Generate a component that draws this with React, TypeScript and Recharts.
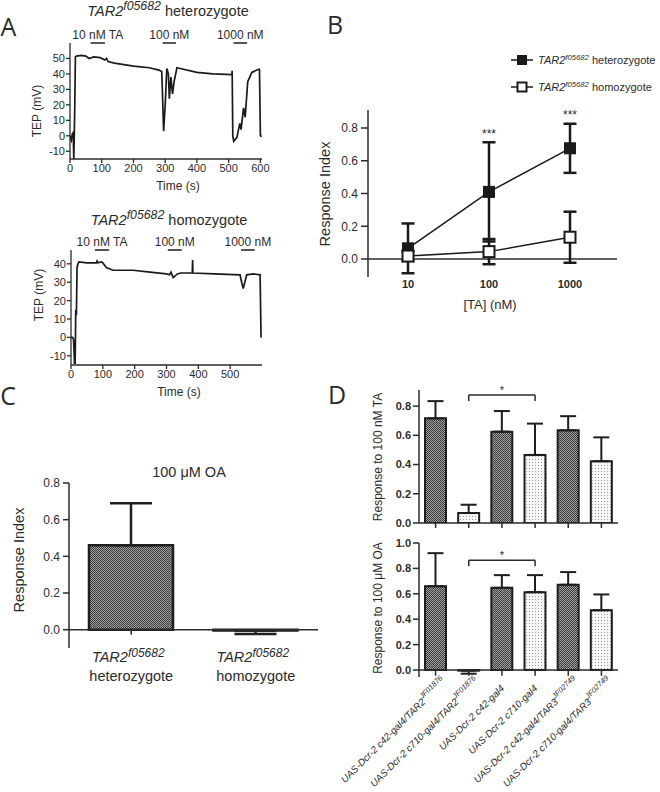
import React from 'react';
import {
  LineChart,
  Line,
  BarChart,
  Bar,
  Cell,
  XAxis,
  YAxis,
  ErrorBar,
  ReferenceLine,
  ReferenceDot,
} from 'recharts';

const FONT = "'Liberation Sans', Arial, Helvetica, sans-serif";
const LETTER_FONT = "'Open Sans', 'Liberation Sans', sans-serif";
const INK = '#2b2b2b';

const GENE = 'TAR2';
const ALLELE = 'f05682';

// A: TEP recordings (time in s, TEP in mV)
const HET_TIME = [0, 2, 4, 7, 10, 12, 15, 17, 20, 35, 50, 60, 75, 95, 110, 115, 120, 140, 170, 200, 250, 280, 289, 291, 295, 300, 305, 310, 313, 318, 323, 328, 337, 347, 400, 450, 510, 511, 513, 516, 526, 535, 539, 547, 552, 560, 573, 594, 597, 600, 605];
const HET_TEP = [0, -2, -3, 1, 2, -15, 18, 51, 51.5, 52, 51.5, 50, 51, 50.5, 49, 50, 48, 47, 46, 45, 44, 42.5, 41.5, 30, 3, 20, 43.5, 40, 24, 38, 27, 35, 44, 43.5, 41, 40, 39.5, 42, 0, -3.5, -1, 8, 4, 18, 12, 35, 41, 43, 43, 0, -0.5];
const HOMO_TIME = [0, 5, 8, 11, 13, 15, 17, 19, 22, 25, 50, 80, 82, 85, 96, 100, 111, 132, 195, 248, 300, 309, 314, 321, 334, 345, 381, 382, 383, 450, 531, 536, 541, 552, 573, 594, 597];
const HOMO_TEP = [0, 0, -1, -14, -14, 15, 12, 38, 40, 41, 40.5, 40.5, 41.5, 40.5, 41, 40.5, 38, 36.5, 36.5, 35.5, 34.5, 34, 35.5, 32.5, 34.5, 35, 35, 42, 35, 34.5, 34, 30, 26.5, 34, 34.5, 34, 0];

const PULSE_LABELS = ['10 nM TA', '100 nM', '1000 nM'];
const HET_PULSE_ON = [65, 292, 515];
const HET_PULSE_OFF = [110, 334, 558];
const HOMO_PULSE_ON = [75, 304, 534];
const HOMO_PULSE_OFF = [120, 348, 577];

const HET_TIME_TICKS = [0, 100, 200, 300, 400, 500, 600];
const HOMO_TIME_TICKS = [0, 100, 200, 300, 400, 500];
const HET_TEP_TICKS = [-10, 0, 10, 20, 30, 40, 50];
const HOMO_TEP_TICKS = [-10, 0, 10, 20, 30, 40];

// B: dose response
const TA_DOSES = ['10', '100', '1000'];
const HET_RI = [0.065, 0.41, 0.676];
const HET_RI_SD = [0.152, 0.303, 0.15];
const HOMO_RI = [0.018, 0.045, 0.133];
const HOMO_RI_SD = [0.03, 0.077, 0.156];
const DOSE_STARS = ['', '***', '***'];

// C: octopamine
const OA_GROUPS = ['heterozygote', 'homozygote'];
const OA_RI = [0.46, -0.005];
const OA_RI_ERR = [0.23, 0.018];

// D: RNAi lines
const RNAI_LINES = [
  'UAS-Dcr-2 c42-gal4/TAR2',
  'UAS-Dcr-2 c710-gal4/TAR2',
  'UAS-Dcr-2 c42-gal4',
  'UAS-Dcr-2 c710-gal4',
  'UAS-Dcr-2 c42-gal4/TAR3',
  'UAS-Dcr-2 c710-gal4/TAR3',
];
const RNAI_ALLELES = ['JF01876', 'JF01876', '', '', 'JF02749', 'JF02749'];
const RNAI_DRIVERS = ['c42', 'c710', 'c42', 'c710', 'c42', 'c710'];
const TA_RESP = [0.716, 0.068, 0.625, 0.466, 0.634, 0.423];
const TA_RESP_ERR = [0.118, 0.057, 0.141, 0.214, 0.097, 0.163];
const OA_RESP = [0.66, -0.005, 0.647, 0.613, 0.671, 0.471];
const OA_RESP_ERR = [0.26, 0.024, 0.1, 0.134, 0.1, 0.124];
const SIG_PAIR = [1, 3];
const TA_BRACKET = [0.835, 0.875];
const OA_BRACKET = [0.817, 0.865];

const RI_TICKS = [0, 0.2, 0.4, 0.6, 0.8];
const RI_TICKS_TO_ONE = [0, 0.2, 0.4, 0.6, 0.8, 1.0];

const RNAI_KEYS = RNAI_LINES.map((l, i) => l + RNAI_ALLELES[i]);

const hetTrace = HET_TIME.map((t, i) => ({ t, tep: HET_TEP[i] }));
const homoTrace = HOMO_TIME.map((t, i) => ({ t, tep: HOMO_TEP[i] }));

const doseData = TA_DOSES.map((dose, i) => ({
  dose,
  het: HET_RI[i],
  hetSd: HET_RI_SD[i],
  homo: HOMO_RI[i],
  homoSd: HOMO_RI_SD[i],
}));

// error bars point away from zero, like the original
const awayFromZero = (v: number, e: number) => (v < 0 ? [e, 0] : [0, e]);

const oaData = OA_GROUPS.map((g, i) => ({
  group: g,
  ri: OA_RI[i],
  err: awayFromZero(OA_RI[i], OA_RI_ERR[i]),
}));

const rnaiData = RNAI_KEYS.map((key, i) => ({
  key,
  ta: TA_RESP[i],
  taErr: awayFromZero(TA_RESP[i], TA_RESP_ERR[i]),
  oa: OA_RESP[i],
  oaErr: awayFromZero(OA_RESP[i], OA_RESP_ERR[i]),
}));

const fill = (driver: string) => (driver === 'c42' ? 'url(#checkDark)' : 'url(#dotLight)');

function Txt({ x, y, size = 13, rotate = 0, bold = false, family = FONT, children }: any) {
  return (
    <div
      style={{
        position: 'absolute',
        left: x,
        top: y,
        transform: `translate(-50%,-50%) rotate(${rotate}deg)`,
        fontSize: size,
        fontFamily: family,
        fontWeight: bold ? 700 : 400,
        lineHeight: 1,
        whiteSpace: 'nowrap',
        color: INK,
      }}
    >
      {children}
    </div>
  );
}

const Gene = ({ sup = 0.85 }: any) => (
  <>
    <i>{GENE}</i>
    <span style={{ fontSize: `${sup}em`, position: 'relative', top: '-0.45em', fontStyle: 'italic' }}>{ALLELE}</span>
  </>
);

function squareDot(filled: boolean) {
  return (props: any) => {
    const { cx, cy, index } = props;
    if (cx == null || cy == null) return <g key={`n-${index}`} />;
    return (
      <rect
        key={`sq-${filled ? 'f' : 'o'}-${index}`}
        x={cx - 5.5}
        y={cy - 5.5}
        width={11}
        height={11}
        fill={filled ? '#1a1a1a' : '#ffffff'}
        stroke="#1a1a1a"
        strokeWidth={filled ? 1 : 2}
      />
    );
  };
}

function GenotypeTick(props: any) {
  const { x, y, payload } = props;
  return (
    <g>
      <text x={x - 3} y={y + 14} textAnchor="middle" fontSize={14.5} fill={INK} fontFamily={FONT}>
        <tspan fontStyle="italic">{GENE}</tspan>
        <tspan fontStyle="italic" fontSize={12} dy={-5}>{ALLELE}</tspan>
      </text>
      <text x={x} y={y + 33} textAnchor="middle" fontSize={14.5} fill={INK} fontFamily={FONT}>
        {payload.value}
      </text>
    </g>
  );
}

function RnaiTick(props: any) {
  const { x, y, payload } = props;
  const i = RNAI_KEYS.indexOf(payload.value);
  const sup = RNAI_ALLELES[i];
  const ax = x + (sup ? 11 : 3);
  const ay = y + (sup ? 5 : 12);
  return (
    <text
      x={ax}
      y={ay}
      transform={`rotate(-45 ${ax} ${ay})`}
      textAnchor="end"
      fontSize={9.8}
      fontStyle="italic"
      fill={INK}
      fontFamily={FONT}
    >
      {RNAI_LINES[i]}
      {sup ? (
        <tspan fontSize={7.5} dy={-5}>
          {sup}
        </tspan>
      ) : null}
    </text>
  );
}

const emptyTick = () => <g />;

function TraceChart({ data, xMax, xTicks, yMin, yMax, yTicks, pulseOn, pulseOff, margin }: any) {
  const tickStyle = { fontSize: 11, fill: INK, fontFamily: FONT };
  return (
    <LineChart width={280} height={200} data={data} margin={margin}>
      <XAxis
        type="number"
        dataKey="t"
        domain={[0, xMax]}
        ticks={xTicks}
        allowDataOverflow
        tickSize={4}
        tickMargin={1}
        tick={tickStyle}
        stroke={INK}
        strokeWidth={1.3}
        interval={0}
      />
      <YAxis
        type="number"
        domain={[yMin, yMax]}
        ticks={yTicks}
        allowDataOverflow
        width={40}
        tickSize={4}
        tickMargin={1}
        tick={tickStyle}
        stroke={INK}
        strokeWidth={1.3}
        interval={0}
      />
      <Line
        dataKey="tep"
        type="linear"
        stroke="#1a1a1a"
        strokeWidth={1.7}
        dot={false}
        isAnimationActive={false}
      />
      {pulseOn.map((on: number, i: number) => (
        <ReferenceLine
          key={i}
          segment={[
            { x: on, y: yMax },
            { x: pulseOff[i], y: yMax },
          ]}
          stroke={INK}
          strokeWidth={1.6}
          ifOverflow="visible"
          label={{ value: PULSE_LABELS[i], position: 'top', offset: 4, fontSize: 12, fill: INK, fontFamily: FONT }}
        />
      ))}
    </LineChart>
  );
}

export default function App() {
  const riTick = { fontSize: 12, fill: INK, fontFamily: FONT };
  const boldTick = { fontSize: 11, fill: INK, fontFamily: FONT, fontWeight: 'bold' };
  const fmt = (v: number) => v.toFixed(1);
  const [a, b] = SIG_PAIR;

  return (
    <div style={{ position: 'absolute', left: 0, top: 0, width: 660, height: 792, background: '#fff', overflow: 'hidden' }}>
      <svg width={0} height={0} style={{ position: 'absolute' }}>
        <defs>
          <pattern id="checkDark" width={2} height={2} patternUnits="userSpaceOnUse">
            <rect width={2} height={2} fill="#a2a2a2" />
            <rect width={1} height={1} fill="#3a3a3a" />
            <rect x={1} y={1} width={1} height={1} fill="#3a3a3a" />
          </pattern>
          <pattern id="dotLight" width={3} height={3} patternUnits="userSpaceOnUse">
            <rect width={3} height={3} fill="#f6f6f6" />
            <rect x={1} y={1} width={1} height={1} fill="#9a9a9a" />
          </pattern>
        </defs>
      </svg>

      {/* A */}
      <div style={{ position: 'absolute', left: 0, top: 0 }}>
        <TraceChart
          data={hetTrace}
          xMax={605}
          xTicks={HET_TIME_TICKS}
          yMin={-15}
          yMax={60}
          yTicks={HET_TEP_TICKS}
          pulseOn={HET_PULSE_ON}
          pulseOff={HET_PULSE_OFF}
          margin={{ top: 43, right: 18, bottom: 11, left: 30 }}
        />
      </div>
      <div style={{ position: 'absolute', left: 0, top: 200 }}>
        <TraceChart
          data={homoTrace}
          xMax={600}
          xTicks={HOMO_TIME_TICKS}
          yMin={-15}
          yMax={47.5}
          yTicks={HOMO_TEP_TICKS}
          pulseOn={HOMO_PULSE_ON}
          pulseOff={HOMO_PULSE_OFF}
          margin={{ top: 50, right: 18, bottom: 5, left: 31 }}
        />
      </div>

      {/* B */}
      <div style={{ position: 'absolute', left: 320, top: 90 }}>
        <LineChart width={320} height={220} data={doseData} margin={{ top: 20, right: 23, bottom: 3, left: 8 }}>
          <XAxis
            dataKey="dose"
            axisLine={false}
            tickLine={false}
            tickSize={0}
            tickMargin={3}
            tick={boldTick}
            padding={{ left: 40, right: 47 }}
            interval={0}
          />
          <YAxis
            type="number"
            domain={[-0.11, 0.91]}
            ticks={RI_TICKS}
            allowDataOverflow
            width={40}
            tickSize={7}
            tickMargin={3}
            tickFormatter={fmt}
            tick={riTick}
            stroke={INK}
            strokeWidth={1.5}
            interval={0}
          />
          <ReferenceLine y={0} stroke={INK} strokeWidth={1.5} />
          <Line
            dataKey="het"
            stroke="#1a1a1a"
            strokeWidth={1.5}
            dot={squareDot(true)}
            isAnimationActive={false}
          >
            <ErrorBar dataKey="hetSd" width={6.5} strokeWidth={2.5} stroke="#1a1a1a" isAnimationActive={false} />
          </Line>
          <Line
            dataKey="homo"
            stroke="#1a1a1a"
            strokeWidth={1.5}
            dot={squareDot(false)}
            isAnimationActive={false}
          >
            <ErrorBar dataKey="homoSd" width={6.5} strokeWidth={2.5} stroke="#1a1a1a" isAnimationActive={false} />
          </Line>
          {DOSE_STARS.map((s, i) =>
            s ? (
              <ReferenceDot
                key={i}
                x={TA_DOSES[i]}
                y={HET_RI[i] + HET_RI_SD[i] + 0.02}
                r={1}
                fill="none"
                stroke="none"
                ifOverflow="visible"
                label={{ value: s, position: 'top', offset: 0, fontSize: 12, fill: INK, fontFamily: FONT }}
              />
            ) : null,
          )}
        </LineChart>
      </div>

      {/* C */}
      <div style={{ position: 'absolute', left: 0, top: 460 }}>
        <BarChart width={330} height={240} data={oaData} margin={{ top: 23, right: 12, bottom: 12, left: 24 }}>
          <XAxis
            dataKey="group"
            height={40}
            axisLine={false}
            tickLine={false}
            tickSize={0}
            tickMargin={0}
            tick={GenotypeTick}
            interval={0}
          />
          <YAxis
            type="number"
            domain={[-0.1, 0.8]}
            ticks={RI_TICKS}
            allowDataOverflow
            width={45}
            tickSize={6}
            tickMargin={3}
            tickFormatter={fmt}
            tick={riTick}
            stroke={INK}
            strokeWidth={1.5}
            interval={0}
          />
          <Bar dataKey="ri" barSize={84} fill="url(#checkDark)" stroke="#1e1e1e" strokeWidth={2.5} isAnimationActive={false}>
            <ErrorBar dataKey="err" width={21} strokeWidth={2.5} stroke="#1e1e1e" isAnimationActive={false} />
          </Bar>
          <ReferenceLine y={0} stroke={INK} strokeWidth={1.5} />
          {OA_GROUPS.map((g) => (
            <ReferenceLine
              key={g}
              segment={[
                { x: g, y: 0 },
                { x: g, y: -0.028 },
              ]}
              stroke={INK}
              strokeWidth={1.5}
            />
          ))}
        </BarChart>
      </div>

      {/* D top: 100 nM TA */}
      <div style={{ position: 'absolute', left: 330, top: 380 }}>
        <BarChart width={300} height={153} data={rnaiData} margin={{ top: 10, right: 12, bottom: 0, left: 54 }}>
          <XAxis
            dataKey="key"
            height={10}
            tickSize={5}
            tick={emptyTick}
            stroke={INK}
            strokeWidth={1.5}
            interval={0}
          />
          <YAxis
            type="number"
            domain={[0, 0.91]}
            ticks={RI_TICKS}
            allowDataOverflow
            width={35}
            tickSize={6}
            tickMargin={2}
            tickFormatter={fmt}
            tick={boldTick}
            stroke={INK}
            strokeWidth={1.5}
            interval={0}
          />
          <Bar dataKey="ta" barSize={21} stroke="#1e1e1e" strokeWidth={2} isAnimationActive={false}>
            {RNAI_DRIVERS.map((d, i) => (
              <Cell key={i} fill={fill(d)} />
            ))}
            <ErrorBar dataKey="taErr" width={8} strokeWidth={2} stroke="#1e1e1e" isAnimationActive={false} />
          </Bar>
          <ReferenceLine
            segment={[
              { x: RNAI_KEYS[a], y: TA_BRACKET[1] },
              { x: RNAI_KEYS[b], y: TA_BRACKET[1] },
            ]}
            stroke={INK}
            strokeWidth={1.5}
            ifOverflow="visible"
            label={{ value: '*', position: 'top', offset: 1, fontSize: 11, fill: INK, fontFamily: FONT }}
          />
          {SIG_PAIR.map((k) => (
            <ReferenceLine
              key={k}
              segment={[
                { x: RNAI_KEYS[k], y: TA_BRACKET[0] },
                { x: RNAI_KEYS[k], y: TA_BRACKET[1] },
              ]}
              stroke={INK}
              strokeWidth={1.5}
              ifOverflow="visible"
            />
          ))}
        </BarChart>
      </div>

      {/* D bottom: 100 uM OA */}
      <div style={{ position: 'absolute', left: 330, top: 535 }}>
        <BarChart width={300} height={257} data={rnaiData} margin={{ top: 8, right: 12, bottom: 0, left: 54 }}>
          <XAxis
            dataKey="key"
            height={115}
            axisLine={false}
            tickLine={false}
            tickSize={0}
            tickMargin={0}
            tick={RnaiTick}
            interval={0}
          />
          <YAxis
            type="number"
            domain={[-0.055, 1.0]}
            ticks={RI_TICKS_TO_ONE}
            allowDataOverflow
            width={35}
            tickSize={6}
            tickMargin={2}
            tickFormatter={fmt}
            tick={boldTick}
            stroke={INK}
            strokeWidth={1.5}
            interval={0}
          />
          <Bar dataKey="oa" barSize={21} stroke="#1e1e1e" strokeWidth={2} isAnimationActive={false}>
            {RNAI_DRIVERS.map((d, i) => (
              <Cell key={i} fill={fill(d)} />
            ))}
            <ErrorBar dataKey="oaErr" width={8} strokeWidth={2} stroke="#1e1e1e" isAnimationActive={false} />
          </Bar>
          <ReferenceLine y={0} stroke={INK} strokeWidth={1.5} />
          {RNAI_KEYS.map((k) => (
            <ReferenceLine
              key={k}
              segment={[
                { x: k, y: 0 },
                { x: k, y: -0.045 },
              ]}
              stroke={INK}
              strokeWidth={1.5}
            />
          ))}
          <ReferenceLine
            segment={[
              { x: RNAI_KEYS[a], y: OA_BRACKET[1] },
              { x: RNAI_KEYS[b], y: OA_BRACKET[1] },
            ]}
            stroke={INK}
            strokeWidth={1.5}
            ifOverflow="visible"
            label={{ value: '*', position: 'top', offset: 1, fontSize: 11, fill: INK, fontFamily: FONT }}
          />
          {SIG_PAIR.map((k) => (
            <ReferenceLine
              key={k}
              segment={[
                { x: RNAI_KEYS[k], y: OA_BRACKET[0] },
                { x: RNAI_KEYS[k], y: OA_BRACKET[1] },
              ]}
              stroke={INK}
              strokeWidth={1.5}
              ifOverflow="visible"
            />
          ))}
        </BarChart>
      </div>

      {/* panel letters */}
      <Txt x={8.5} y={26} size={25} family={LETTER_FONT}>A</Txt>
      <Txt x={335} y={24} size={25} family={LETTER_FONT}>B</Txt>
      <Txt x={8} y={395} size={25} family={LETTER_FONT}>C</Txt>
      <Txt x={337} y={394} size={25} family={LETTER_FONT}>D</Txt>

      {/* A texts */}
      <Txt x={168} y={11} size={14.5}>
        <Gene /> heterozygote
      </Txt>
      <Txt x={169} y={220} size={14.5}>
        <Gene /> homozygote
      </Txt>
      <Txt x={178} y={186} size={12}>Time (s)</Txt>
      <Txt x={179} y={392} size={12}>Time (s)</Txt>
      <Txt x={37} y={111} size={12} rotate={-90}>TEP (mV)</Txt>
      <Txt x={39} y={295} size={12} rotate={-90}>TEP (mV)</Txt>

      {/* B texts */}
      <Txt x={325} y={194} size={14.5} rotate={-90}>Response Index</Txt>
      <Txt x={490} y={304} size={13}>[TA] (nM)</Txt>
      {[0, 1].map((i) => (
        <div
          key={i}
          style={{ position: 'absolute', left: 510, top: i === 0 ? 60 : 87, transform: 'translateY(-50%)', display: 'flex', alignItems: 'center' }}
        >
          <svg width={24} height={14} style={{ display: 'block' }}>
            <line x1={1} y1={7} x2={23} y2={7} stroke="#1a1a1a" strokeWidth={1.5} />
            <rect
              x={7.5}
              y={2.5}
              width={9}
              height={9}
              fill={i === 0 ? '#1a1a1a' : '#fff'}
              stroke="#1a1a1a"
              strokeWidth={i === 0 ? 1 : 2}
            />
          </svg>
          <span style={{ marginLeft: 4, fontSize: 11, fontFamily: FONT, color: INK, whiteSpace: 'nowrap', lineHeight: 1 }}>
            <Gene sup={0.7} /> {i === 0 ? 'heterozygote' : 'homozygote'}
          </span>
        </div>
      ))}

      {/* C texts */}
      <Txt x={19} y={560} size={14.5} rotate={-90}>Response Index</Txt>
      <Txt x={189} y={472} size={14.5}>100 μM OA</Txt>

      {/* D texts */}
      <Txt x={378} y={457} size={12} rotate={-90}>Response to 100 nM TA</Txt>
      <Txt x={378} y={608} size={12} rotate={-90}>Response to 100 μM OA</Txt>
    </div>
  );
}
